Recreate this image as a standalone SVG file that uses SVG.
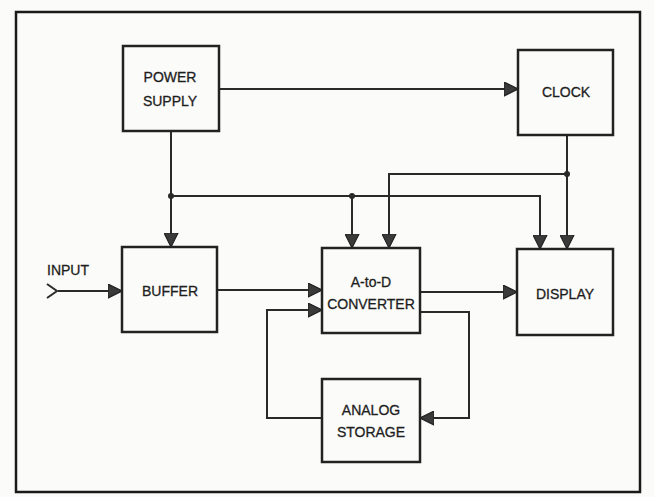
<svg xmlns="http://www.w3.org/2000/svg" width="654" height="497" viewBox="0 0 654 497">
<defs>
<style>
.box{fill:none;stroke:#222;stroke-width:2.5}
.ln{fill:none;stroke:#2a2a2a;stroke-width:2}
.t{font-family:"Liberation Sans",Arial,sans-serif;font-size:14px;fill:#1e1e1e;text-anchor:middle;stroke:#1e1e1e;stroke-width:0.3}
.dot{fill:#2a2a2a}
</style>
<marker id="ah" markerUnits="userSpaceOnUse" markerWidth="15" markerHeight="15" refX="12" refY="6.5" viewBox="0 0 13 13" orient="auto">
<path d="M0,0.5 L12,6.5 L0,12.5 z" fill="#3a3a3a" stroke="#222" stroke-width="1"/>
</marker>
</defs>
<rect x="0" y="0" width="654" height="497" fill="#fbfbf9"/>
<rect x="16" y="12" width="624" height="480" fill="none" stroke="#1a1a1a" stroke-width="2.5"/>

<g id="connectors">
<path class="ln" d="M219,89 H518" marker-end="url(#ah)"/>
<path class="ln" d="M171,131 V247" marker-end="url(#ah)"/>
<path class="ln" d="M171,196 H540 V249" marker-end="url(#ah)"/>
<path class="ln" d="M352,196 V248" marker-end="url(#ah)"/>
<path class="ln" d="M567,135 V249" marker-end="url(#ah)"/>
<path class="ln" d="M567,174 H389 V248" marker-end="url(#ah)"/>
<path class="ln" d="M58,291 H122" marker-end="url(#ah)"/>
<path class="ln" d="M47,284 L57,291 L47,298"/>
<path class="ln" d="M217,290 H322" marker-end="url(#ah)"/>
<path class="ln" d="M420,292 H517" marker-end="url(#ah)"/>
<path class="ln" d="M420,312 H469 V418 H420" marker-end="url(#ah)"/>
<path class="ln" d="M322,418 H267 V310 H322" marker-end="url(#ah)"/>
<circle class="dot" cx="171" cy="196" r="3"/>
<circle class="dot" cx="352" cy="196" r="3"/>
<circle class="dot" cx="567" cy="174" r="3"/>
</g>

<g id="power-supply">
<rect class="box" x="123" y="46" width="96" height="85"/>
<text class="t" x="170" y="82">POWER</text>
<text class="t" x="170" y="106">SUPPLY</text>
</g>
<g id="clock">
<rect class="box" x="518" y="50" width="95" height="85"/>
<text class="t" x="566" y="97">CLOCK</text>
</g>
<g id="input">
<text class="t" x="68" y="275">INPUT</text>
</g>
<g id="buffer">
<rect class="box" x="122" y="247" width="95" height="85"/>
<text class="t" x="170" y="296">BUFFER</text>
</g>
<g id="adc">
<rect class="box" x="322" y="248" width="98" height="85"/>
<text class="t" x="371" y="287">A-to-D</text>
<text class="t" x="371" y="309">CONVERTER</text>
</g>
<g id="display">
<rect class="box" x="517" y="249" width="96" height="86"/>
<text class="t" x="565" y="299">DISPLAY</text>
</g>
<g id="analog-storage">
<rect class="box" x="322" y="379" width="98" height="83"/>
<text class="t" x="371" y="415">ANALOG</text>
<text class="t" x="371" y="437">STORAGE</text>
</g>
</svg>
